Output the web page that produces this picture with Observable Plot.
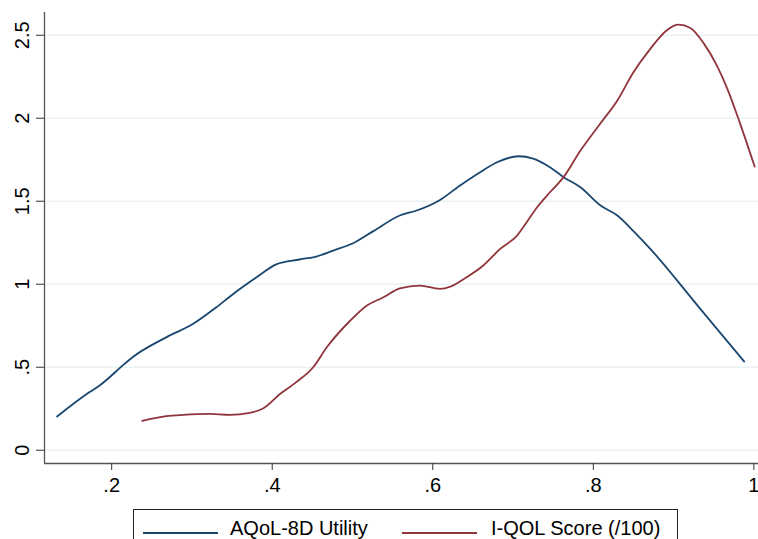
<!DOCTYPE html>
<html><head><meta charset="utf-8">
<script src="https://cdn.jsdelivr.net/npm/d3@7"></script>
<script src="https://cdn.jsdelivr.net/npm/@observablehq/plot@0.6"></script>
<style>
body{margin:0;background:#fff;font-family:"Liberation Sans",Arial,sans-serif;}
#wrap{position:relative;width:758px;height:539px;overflow:hidden;background:#fff;}
#legend{position:absolute;left:133px;top:509px;width:545px;height:30px;border:1px solid #222;border-bottom:none;box-sizing:border-box;background:#fff;}
.key{position:absolute;top:22px;width:75px;height:0;border-top:2px solid;}
.lab{position:absolute;top:7px;font-size:20px;line-height:23px;color:#000;white-space:nowrap;}
</style>
</head><body>
<div id="wrap"><div id="chart"></div><div id="legend"></div></div>
<script>
const seriesNames = ["AQoL-8D Utility", "I-QOL Score (/100)"];
const seriesColors = ["#1a476f", "#90353b"];

const aqolX = [0.132,0.172,0.185,0.216,0.226,0.268,0.301,0.330,0.351,0.380,0.405,0.434,0.455,0.476,0.500,0.526,0.559,0.580,0.609,0.634,0.659,0.680,0.707,0.725,0.746,0.763,0.784,0.809,0.830,0.850,0.871,0.933,0.988];
const aqolY = [0.203,0.349,0.39,0.52,0.56,0.68,0.76,0.86,0.94,1.04,1.12,1.149,1.167,1.203,1.245,1.32,1.414,1.444,1.508,1.595,1.675,1.735,1.771,1.757,1.705,1.645,1.584,1.474,1.414,1.32,1.213,0.853,0.534];

const iqolX = [0.238,0.268,0.289,0.322,0.347,0.372,0.389,0.410,0.430,0.451,0.468,0.497,0.518,0.538,0.559,0.584,0.609,0.622,0.642,0.663,0.684,0.705,0.717,0.730,0.746,0.763,0.784,0.809,0.830,0.850,0.871,0.892,0.906,0.921,0.938,0.954,0.967,0.983,1.001];
const iqolY = [0.177,0.205,0.213,0.219,0.213,0.225,0.253,0.34,0.41,0.5,0.62,0.78,0.872,0.92,0.975,0.992,0.972,0.986,1.042,1.113,1.213,1.293,1.373,1.464,1.554,1.645,1.805,1.97,2.107,2.277,2.418,2.532,2.564,2.544,2.448,2.317,2.177,1.966,1.709];

const xTicks = [0.2, 0.4, 0.6, 0.8, 1];
const yTicks = [0, 0.5, 1, 1.5, 2, 2.5];
const xDomain = [0.1163, 1.0058];
const yDomain = [-0.08, 2.637];

const fmt = d => d === 0 ? "0" : String(d).replace(/^0\./, ".");

const aqol = aqolX.map((x, i) => ({x, y: aqolY[i], s: seriesNames[0]}));
const iqol = iqolX.map((x, i) => ({x, y: iqolY[i], s: seriesNames[1]}));

const chart = Plot.plot({
  width: 758,
  height: 505,
  marginLeft: 44,
  marginRight: 0,
  marginTop: 12,
  marginBottom: 42,
  style: {fontFamily: "Liberation Sans, Arial, sans-serif", background: "#fff"},
  x: {domain: xDomain, label: null},
  y: {domain: yDomain, label: null},
  marks: [
    Plot.gridY(yTicks, {stroke: "#eaf2f3", strokeOpacity: 1, strokeWidth: 1.6}),
    Plot.ruleX([xDomain[0]], {stroke: "#555", strokeWidth: 1.3}),
    Plot.ruleY([yDomain[0]], {stroke: "#555", strokeWidth: 1.3}),
    Plot.axisX({ticks: xTicks, tickFormat: fmt, tickSize: 7, tickPadding: 7, fontSize: 20, stroke: "#333", color: "#000", label: null}),
    Plot.axisY({ticks: yTicks, tickFormat: () => "", tickSize: 8, stroke: "#333", label: null}),
    Plot.text(yTicks, {y: d => d, text: fmt, frameAnchor: "left", rotate: -90, textAnchor: "middle", lineAnchor: "bottom", dx: -16, fontSize: 20, fill: "#000"}),
    Plot.line(aqol, {x: "x", y: "y", stroke: seriesColors[0], strokeWidth: 1.8, curve: "monotone-x"}),
    Plot.line(iqol, {x: "x", y: "y", stroke: seriesColors[1], strokeWidth: 1.8, curve: "monotone-x"})
  ]
});
document.getElementById("chart").appendChild(chart);

const legend = document.getElementById("legend");
const keyLeft = [9, 268];
const labLeft = [96, 357];
seriesNames.forEach((name, i) => {
  const k = document.createElement("div");
  k.className = "key";
  k.style.left = keyLeft[i] + "px";
  k.style.borderTopColor = seriesColors[i];
  legend.appendChild(k);
  const t = document.createElement("div");
  t.className = "lab";
  t.style.left = labLeft[i] + "px";
  t.textContent = name;
  legend.appendChild(t);
});
</script>
</body></html>
